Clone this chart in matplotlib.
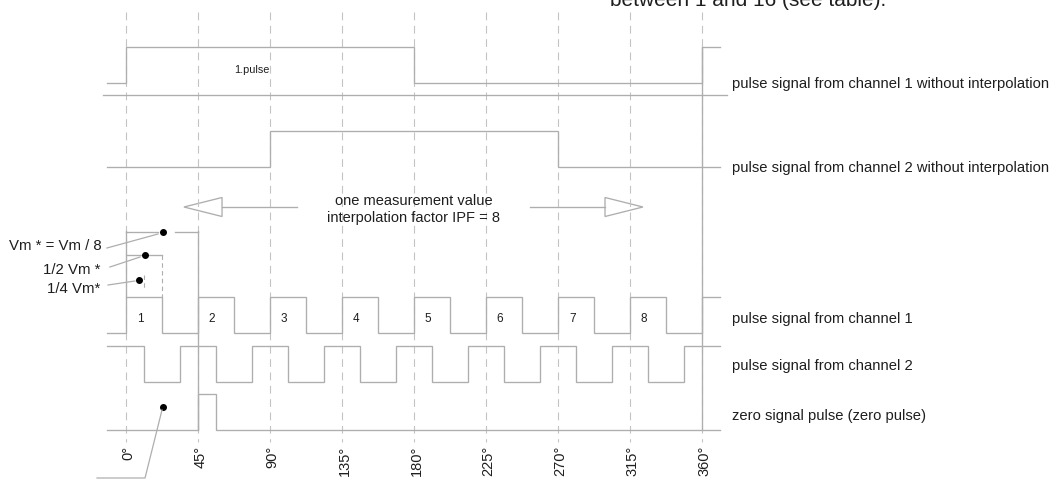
import matplotlib.pyplot as plt
from matplotlib.patches import Polygon

# angle ticks (degrees)
tick_angles = [0, 45, 90, 135, 180, 225, 270, 315, 360]
tick_labels = ["0°", "45°", "90°", "135°", "180°", "225°", "270°", "315°", "360°"]

# edges of each signal (degrees): start level, list of edge angles
raw1_start, raw1_edges = 0, [0, 180, 360]
raw2_start, raw2_edges = 0, [90, 270]
ch1_start = 0
ch1_rise = [0, 45, 90, 135, 180, 225, 270, 315, 360]
ch1_fall = [22.5, 67.5, 112.5, 157.5, 202.5, 247.5, 292.5, 337.5]
ch2_start = 1
ch2_fall = [11.25, 56.25, 101.25, 146.25, 191.25, 236.25, 281.25, 326.25]
ch2_rise = [33.75, 78.75, 123.75, 168.75, 213.75, 258.75, 303.75, 348.75]
zero_start, zero_edges = 0, [45, 56.25]

pulse_numbers = ["1", "2", "3", "4", "5", "6", "7", "8"]
row_labels = ["pulse signal from channel 1 without interpolation",
              "pulse signal from channel 2 without interpolation",
              "pulse signal from channel 1",
              "pulse signal from channel 2",
              "zero signal pulse (zero pulse)"]

# layout (pixel rows, y grows downwards)
W, H = 1058, 481
x0_px, ppd = 125.5, 1.601
rows = {"raw1": (48, 84), "raw2": (132, 168), "ch1": (298, 334),
        "ch2": (347, 383), "zero": (395, 431)}
label_y = [84, 168, 319, 366, 416]
xa, xb = -11.5, 371.5

sig_c = "#aeaeae"
grid_c = "#c4c4c4"
txt_c = "#1e1e1e"
lw = 0.95

plt.rcParams['font.family'] = ['Liberation Sans', 'DejaVu Sans']

fig = plt.figure(figsize=(W / 100, H / 100), dpi=100)
ax = fig.add_axes([0, 0, 1, 1])
ax.set_xlim(-x0_px / ppd, (W - x0_px) / ppd)
ax.set_ylim(H, 0)
ax.axis("off")


def wave(start, edges, levels):
    hi, lo = levels
    xs, ys = [xa], []
    st = start
    for e in sorted(edges):
        xs += [e, e]
        ys += [st, 1 - st]
        st = 1 - st
    xs.append(xb)
    ys = [start] + ys + [st]
    ys = [hi if s else lo for s in ys]
    ax.plot(xs, ys, color=sig_c, lw=lw, solid_joinstyle="miter")


# dashed angle grid
for a, lab in zip(tick_angles, tick_labels):
    ax.plot([a, a], [13, 443], color=grid_c, lw=0.8, ls=(0, (7, 5)))
    ax.text(a + 1.8, 446, lab, rotation=90,
            ha="center", va="top", fontsize=10.5, color=txt_c)

# signals
wave(raw1_start, raw1_edges, rows["raw1"])
wave(raw2_start, raw2_edges, rows["raw2"])
wave(ch1_start, ch1_rise + ch1_fall, rows["ch1"])
wave(ch2_start, ch2_rise + ch2_fall, rows["ch2"])
wave(zero_start, zero_edges, rows["zero"])

# separator between raw channels
ax.plot([-14, 375.5], [96, 96], color=sig_c, lw=lw)

# extension lines
ax.plot([45, 45], [232, 431], color=sig_c, lw=lw)
ax.plot([360, 360], [48, 431], color=sig_c, lw=lw)
ax.plot([0, 0], [232, 298], color=sig_c, lw=lw)
ax.plot([22.5, 22.5], [256, 298], color=sig_c, lw=0.8, ls=(0, (4, 3)))
ax.plot([11.25, 11.25], [276, 290], color=sig_c, lw=0.8, ls=(0, (4, 3)))

# dimension lines with dots
ax.plot([0, 20], [233, 233], color=sig_c, lw=lw)
ax.plot([31, 45], [233, 233], color=sig_c, lw=lw)
ax.plot([1, 22.5], [256, 256], color=sig_c, lw=lw)
dots_x = [23.4, 12.2, 8.4, 23.4]
dots_y = [233, 256, 281, 408]
ax.plot(dots_x, dots_y, "o", color="black", ms=4)

# leader lines
ax.plot([-11.6, 20.3], [249, 235], color=sig_c, lw=0.9)
ax.plot([-9.7, 9.1], [268, 258], color=sig_c, lw=0.9)
ax.plot([-10.9, 5.9], [286, 282], color=sig_c, lw=0.9)
ax.plot([22.8, 12.2, -17.8], [411, 479, 479], color=sig_c, lw=0.9)

ax.text(-14.7, 246, "Vm * = Vm / 8", ha="right", va="center", fontsize=10.8, color=txt_c)
ax.text(-15.5, 270, "1/2 Vm *", ha="right", va="center", fontsize=10.8, color=txt_c)
ax.text(-15.5, 289, "1/4 Vm*", ha="right", va="center", fontsize=10.8, color=txt_c)

# measurement arrow
ax.plot([60.3, 107], [208, 208], color=sig_c, lw=lw)
ax.plot([252.7, 299.5], [208, 208], color=sig_c, lw=lw)
ax.add_patch(Polygon([[36.5, 208], [60.3, 198.5], [60.3, 217.5]], closed=True,
                     facecolor="white", edgecolor=sig_c, lw=lw))
ax.add_patch(Polygon([[323.2, 208], [299.5, 198.5], [299.5, 217.5]], closed=True,
                     facecolor="white", edgecolor=sig_c, lw=lw))
ax.text(180, 201, "one measurement value", ha="center", va="center", fontsize=10.5, color=txt_c)
ax.text(180, 218, "interpolation factor IPF = 8", ha="center", va="center", fontsize=10.5, color=txt_c)

# pulse labels
ax.text(79, 70, "1.pulse", ha="center", va="center", fontsize=7.8, color=txt_c)
for r, n in zip(ch1_rise, pulse_numbers):
    ax.text(r + 9, 319, n, ha="center", va="center", fontsize=8.5, color=txt_c)

# row labels
for y, lab in zip(label_y, row_labels):
    ax.text(378.8, y, lab, ha="left", va="center", fontsize=10.6, color=txt_c)

# cut-off text at the top
ax.text(302.6, 6, "between 1 and 16 (see table).", ha="left", va="baseline",
        fontsize=15, color=txt_c)

fig.savefig("out.png", dpi=100)
